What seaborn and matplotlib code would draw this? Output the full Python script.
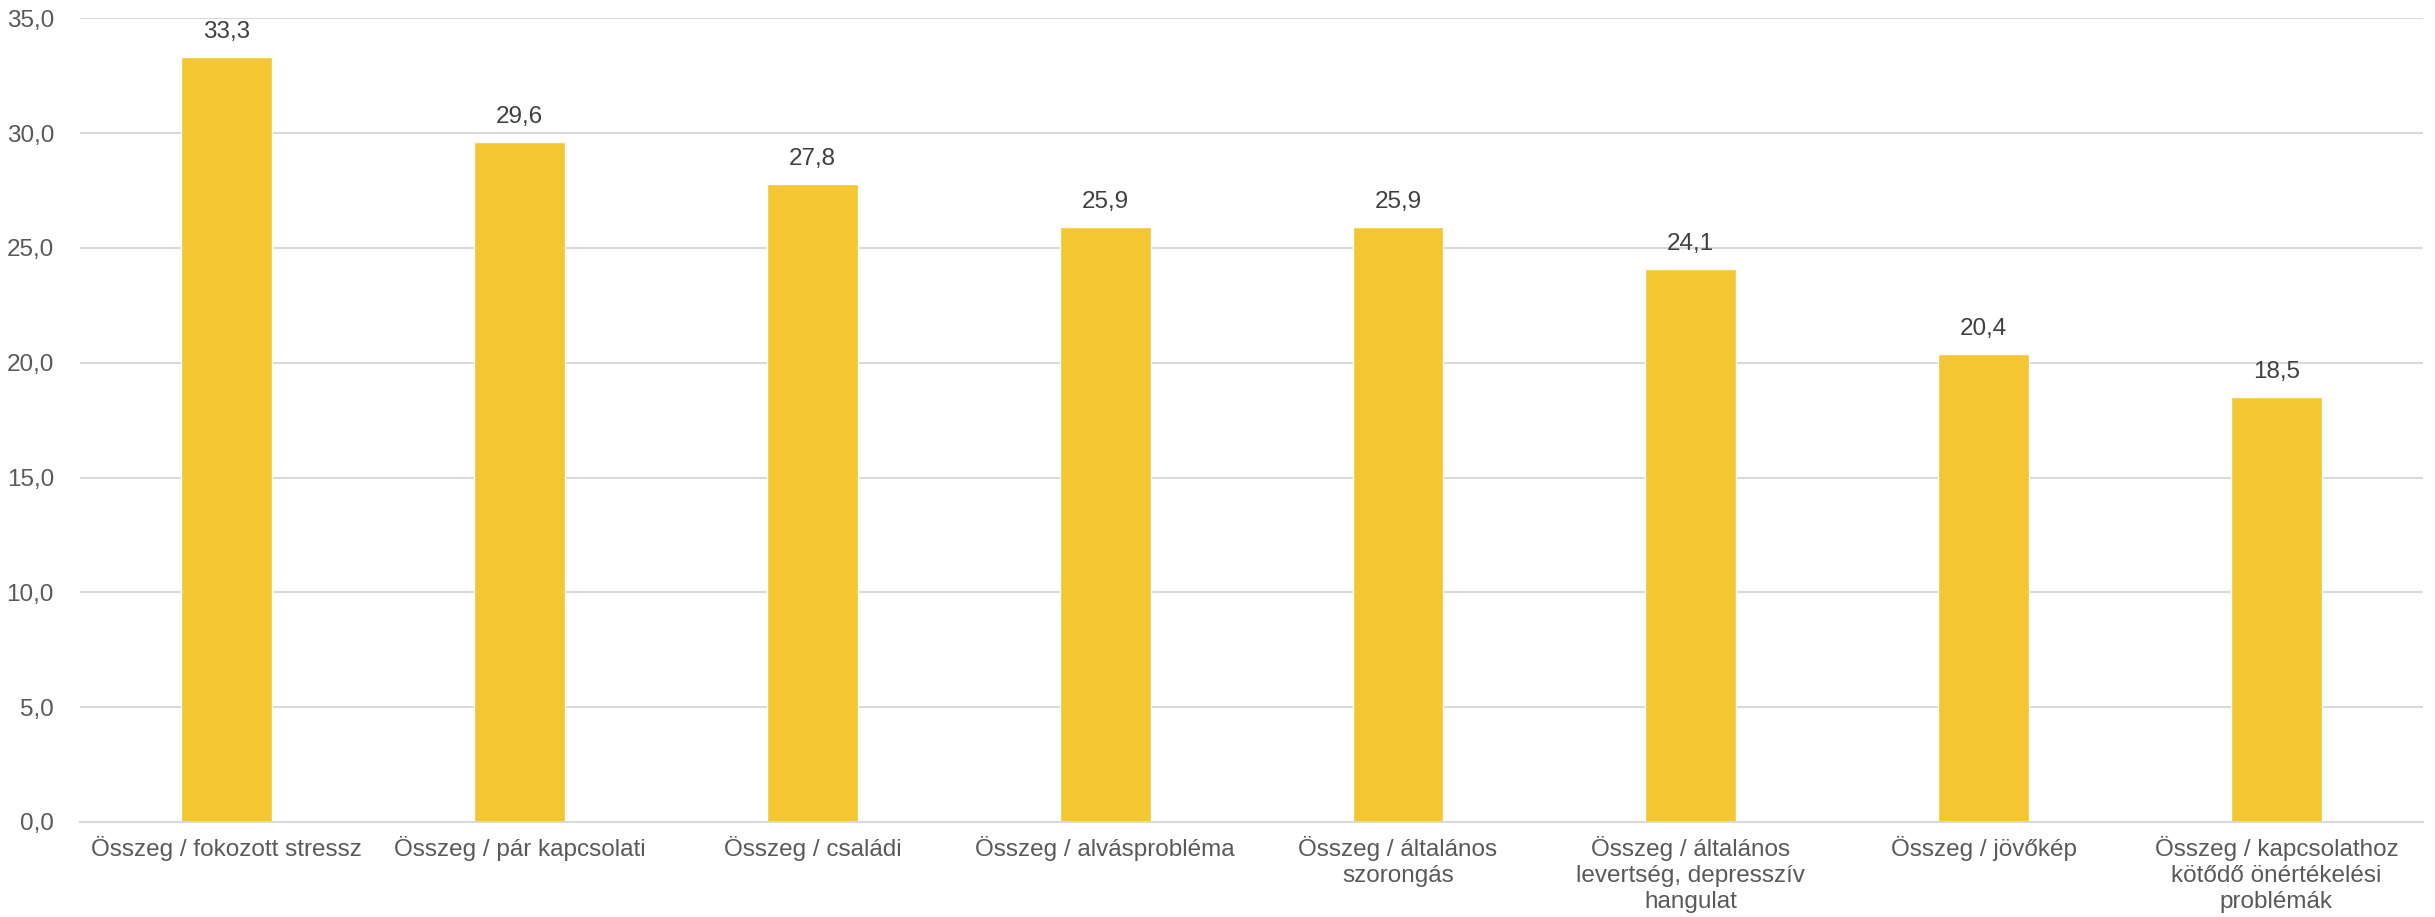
import matplotlib
matplotlib.use("Agg")
import matplotlib.pyplot as plt
import seaborn as sns
import pandas as pd

# data
categories = [
    "Összeg / fokozott stressz",
    "Összeg / pár kapcsolati",
    "Összeg / családi",
    "Összeg / alvásprobléma",
    "Összeg / általános\nszorongás",
    "Összeg / általános\nlevertség, depresszív\nhangulat",
    "Összeg / jövőkép",
    "Összeg / kapcsolathoz\nkötődő önértékelési\nproblémák",
]
values = [33.3, 29.6, 27.8, 25.9, 25.9, 24.1, 20.4, 18.5]
y_ticks = [0, 5, 10, 15, 20, 25, 30, 35]

df = pd.DataFrame({"category": categories, "value": values})

sns.set_style("white")
plt.rcParams["font.family"] = ["Liberation Sans", "DejaVu Sans"]

fig = plt.figure(figsize=(24.35, 9.17), dpi=100)
ax = fig.add_axes([0.033, 0.1036, 0.962, 0.8764])

sns.barplot(data=df, x="category", y="value", color="#F4C631", saturation=1,
            width=0.31, ax=ax)

ax.set_ylim(0, 35)
ax.set_yticks(y_ticks)
ax.set_yticklabels([f"{t:.1f}".replace(".", ",") for t in y_ticks])
ax.yaxis.grid(True, color="#D9D9D9", linewidth=1.5)
ax.set_axisbelow(True)
for side in ["top", "right", "left"]:
    ax.spines[side].set_visible(False)
ax.spines["bottom"].set_color("#D9D9D9")
ax.spines["bottom"].set_linewidth(1.5)

ax.tick_params(axis="both", length=0, labelsize=17.5, labelcolor="#595959")
ax.tick_params(axis="x", pad=10)
ax.tick_params(axis="y", pad=19)
for lbl in ax.get_xticklabels():
    lbl.set_linespacing(1.25)
ax.set_xlabel("")
ax.set_ylabel("")
ax.set_xlim(-0.5, len(categories) - 0.5)

for container in ax.containers:
    ax.bar_label(container, labels=[f"{v:.1f}".replace(".", ",") for v in values],
                 padding=10, fontsize=17.5, color="#404040")

fig.savefig("out.png", dpi=100)
